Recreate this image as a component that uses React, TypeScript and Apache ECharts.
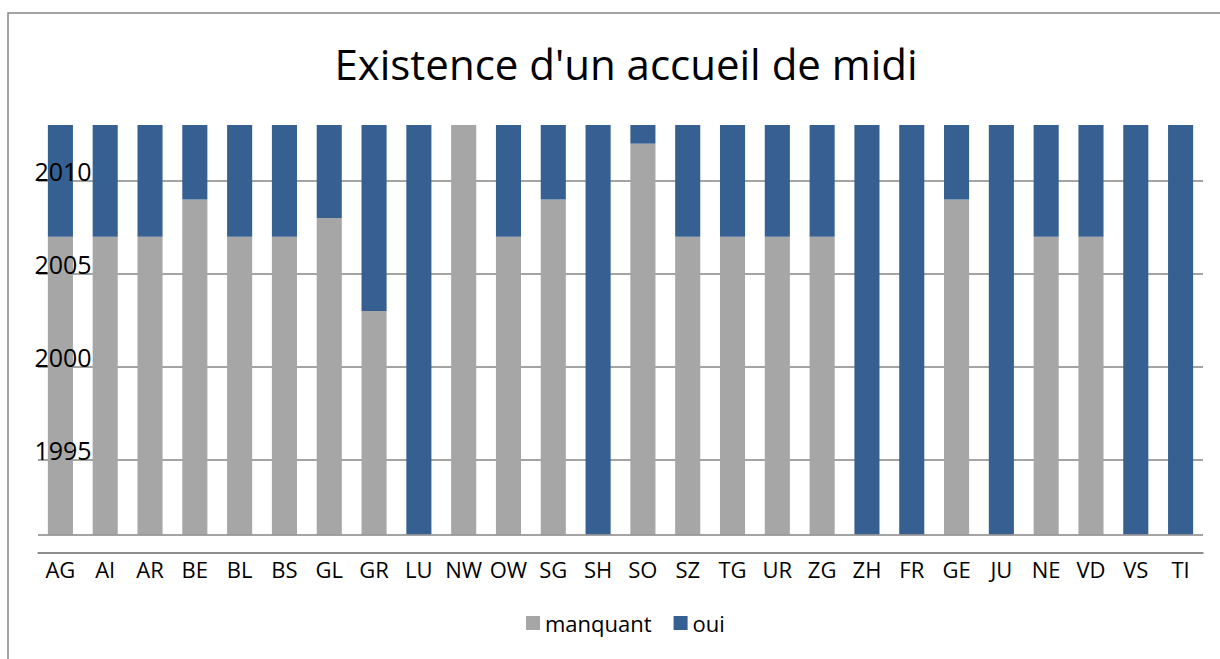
import React, { useEffect, useRef } from "react";
import * as echarts from "echarts";

const cantons = ["AG","AI","AR","BE","BL","BS","GL","GR","LU","NW","OW","SG","SH","SO","SZ","TG","UR","ZG","ZH","FR","GE","JU","NE","VD","VS","TI"];
// bars start at 1991 (transparent base)
const baseYear = [1991,1991,1991,1991,1991,1991,1991,1991,1991,1991,1991,1991,1991,1991,1991,1991,1991,1991,1991,1991,1991,1991,1991,1991,1991,1991];
// years without a midday reception ("manquant")
const manquant = [16,16,16,18,16,16,17,12,0,22,16,18,0,21,16,16,16,16,0,0,18,0,16,16,0,0];
// years with a midday reception ("oui")
const oui = [6,6,6,4,6,6,5,10,22,0,6,4,22,1,6,6,6,6,22,22,4,22,6,6,22,22];
const yearRange = [1990, 2013];
const yearStep = 5;
const extraLine = [1991];

const FONT = "Open Sans";

export default function App() {
  const ref = useRef<HTMLDivElement>(null);
  useEffect(() => {
    const chart = echarts.init(ref.current!, null, { renderer: "svg" });
    const yBase = {
      type: "value",
      min: yearRange[0],
      max: yearRange[1],
      interval: yearStep,
      position: "left",
      axisLine: { show: false },
      axisTick: { show: false },
    };
    chart.setOption({
      animation: false,
      backgroundColor: "#ffffff",
      textStyle: { fontFamily: FONT },
      title: {
        text: "Existence d'un accueil de midi",
        left: 621,
        textAlign: "center",
        top: 37,
        textStyle: { fontFamily: FONT, fontSize: 42, fontWeight: "normal", color: "#000" },
      },
      graphic: [
        {
          type: "rect",
          shape: { x: 8, y: 13, width: 1300, height: 700 },
          style: { fill: "none", stroke: "#868686", lineWidth: 1.5 },
          silent: true,
          z: -1,
        },
      ],
      legend: {
        data: ["manquant", "oui"],
        left: 521,
        top: 607,
        icon: "rect",
        itemWidth: 14,
        itemHeight: 14,
        itemGap: 22,
        itemStyle: { borderWidth: 0 },
        textStyle: { fontFamily: FONT, fontSize: 22, color: "#000" },
      },
      grid: { left: 38, right: 17, top: 125, bottom: 106 },
      xAxis: {
        type: "category",
        data: cantons,
        axisLine: { show: true, lineStyle: { color: "#868686", width: 1.5 } },
        axisTick: { show: false },
        axisLabel: { interval: 0, margin: 5, fontFamily: FONT, fontSize: 22, color: "#000" },
      },
      yAxis: [
        {
          ...yBase,
          z: 0,
          splitLine: { show: true, showMaxLine: false, lineStyle: { color: "#868686", width: 1.5 } },
          axisLabel: { show: false },
        },
        {
          ...yBase,
          z: 20,
          splitLine: { show: false },
          axisLabel: {
            showMinLabel: false,
            showMaxLabel: false,
            formatter: (v: number) => String(v),
            align: "center",
            verticalAlign: "bottom",
            margin: -25,
            lineHeight: 20,
            fontFamily: FONT,
            fontSize: 25,
            color: "#000",
          },
        },
      ],
      series: [
        {
          name: "base",
          type: "bar",
          stack: "total",
          data: baseYear,
          itemStyle: { color: "rgba(0,0,0,0)" },
          barCategoryGap: "44%",
          silent: true,
          markLine: {
            silent: true,
            symbol: "none",
            label: { show: false },
            lineStyle: { color: "#868686", width: 1.5, type: "solid" },
            data: extraLine.map((v) => ({ yAxis: v })),
          },
        },
        {
          name: "manquant",
          type: "bar",
          stack: "total",
          data: manquant,
          itemStyle: { color: "#A6A6A6" },
          barCategoryGap: "44%",
        },
        {
          name: "oui",
          type: "bar",
          stack: "total",
          data: oui,
          itemStyle: { color: "#376092" },
          barCategoryGap: "44%",
        },
      ],
    });
    return () => chart.dispose();
  }, []);
  return (
    <div
      ref={ref}
      style={{ position: "fixed", left: 0, top: 0, width: 1220, height: 659, background: "#fff" }}
    />
  );
}
